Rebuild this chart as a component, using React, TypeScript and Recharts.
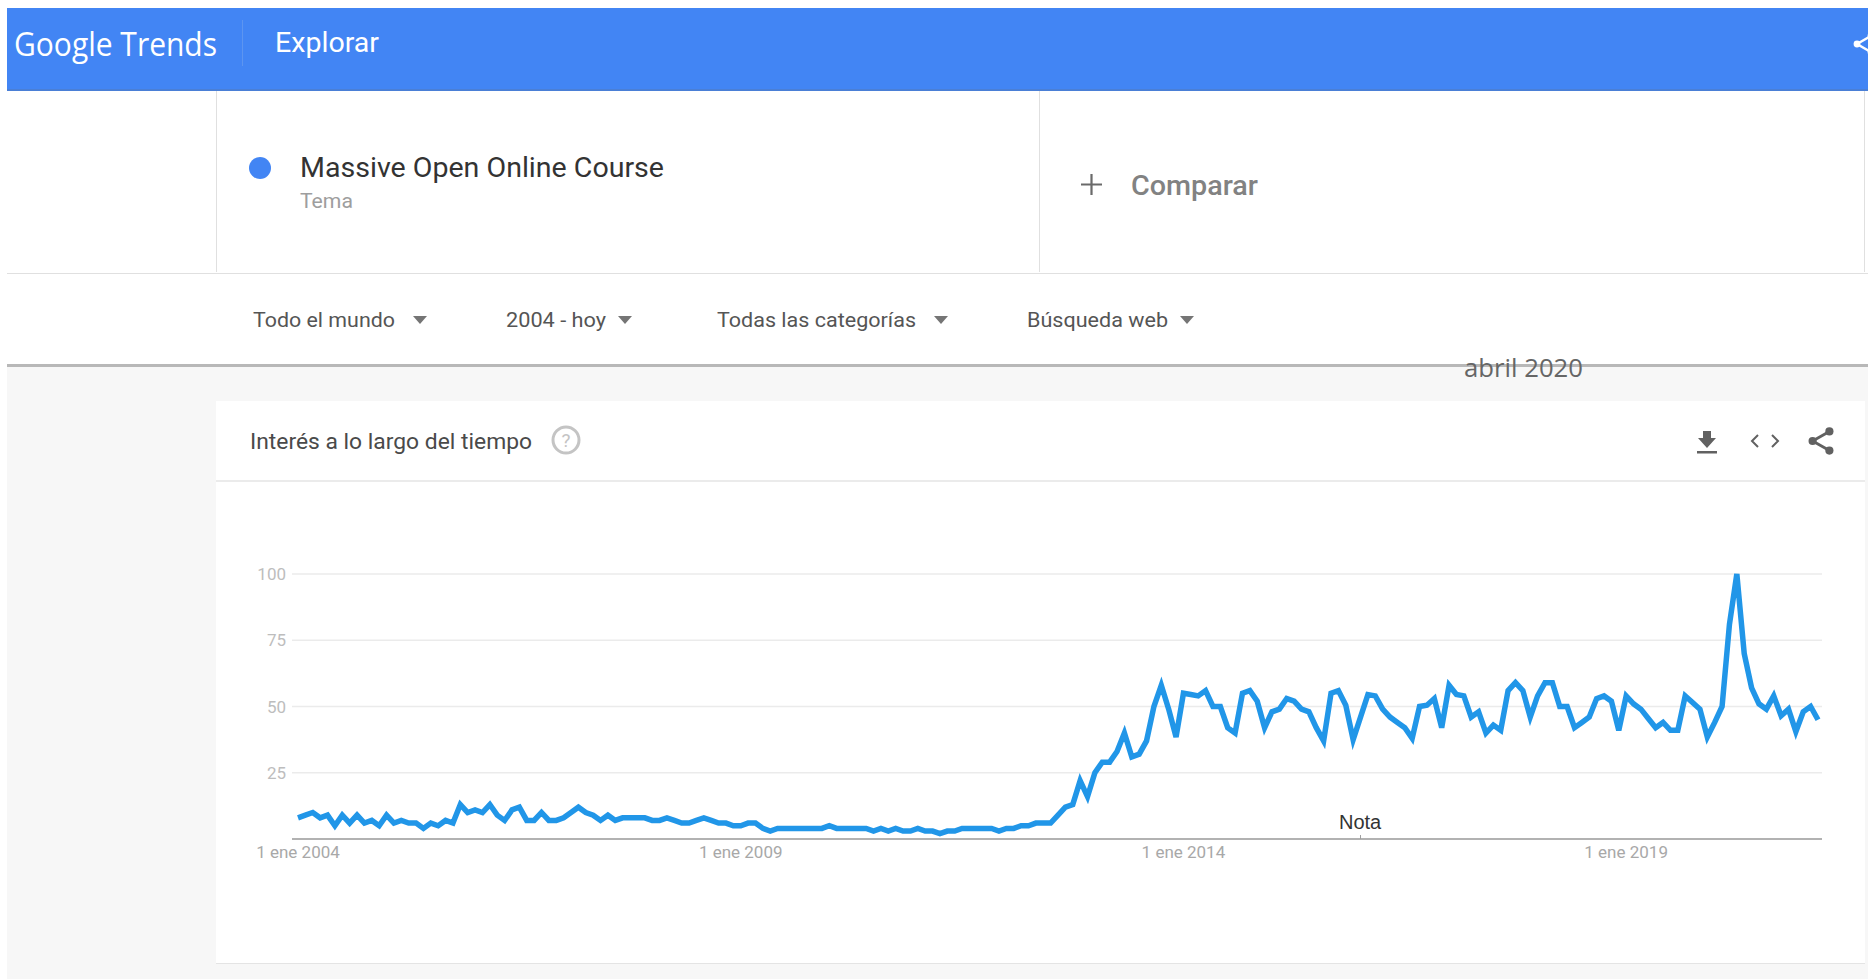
import { LineChart, Line, XAxis, YAxis, CartesianGrid, ReferenceLine } from "recharts";

const BLUE = "#4285f4";
const FONT = "Roboto, sans-serif";

const MONTHS = ["ene", "feb", "mar", "abr", "may", "jun", "jul", "ago", "sep", "oct", "nov", "dic"];

// monthly interest, one row per year, from Jan 2004
const v2004 = [8, 9, 10, 8, 9, 5, 9, 6, 9, 6, 7, 5];
const v2005 = [9, 6, 7, 6, 6, 4, 6, 5, 7, 6, 13, 10];
const v2006 = [11, 10, 13, 9, 7, 11, 12, 7, 7, 10, 7, 7];
const v2007 = [8, 10, 12, 10, 9, 7, 9, 7, 8, 8, 8, 8];
const v2008 = [7, 7, 8, 7, 6, 6, 7, 8, 7, 6, 6, 5];
const v2009 = [5, 6, 6, 4, 3, 4, 4, 4, 4, 4, 4, 4];
const v2010 = [5, 4, 4, 4, 4, 4, 3, 4, 3, 4, 3, 3];
const v2011 = [4, 3, 3, 2, 3, 3, 4, 4, 4, 4, 4, 3];
const v2012 = [4, 4, 5, 5, 6, 6, 6, 9, 12, 13, 22, 16];
const v2013 = [25, 29, 29, 33, 40, 31, 32, 37, 50, 58, 49, 38.5];
const v2014 = [55, 54.5, 54, 56, 50, 50, 42, 40, 55, 56, 52, 42];
const v2015 = [48, 49, 53, 52, 49, 48, 42, 37, 55, 56, 50.5, 37.5];
const v2016 = [46, 54.5, 54, 49, 46, 44, 42, 38, 50, 50.5, 53, 42];
const v2017 = [58, 54.5, 54, 46, 48, 40, 43, 41, 56, 59, 56, 46];
const v2018 = [54, 59, 59, 50, 50, 42, 44, 46, 53, 54, 52, 41];
const v2019 = [54, 51, 49, 45.5, 42, 44, 41, 41, 54, 51.5, 49, 38.5];
const v2020 = [44, 50, 81, 100, 70, 57, 51, 49, 54, 46.5, 49, 40.5];
const v2021 = [48, 50, 45];

const years = [v2004, v2005, v2006, v2007, v2008, v2009, v2010, v2011, v2012, v2013, v2014, v2015, v2016, v2017, v2018, v2019, v2020, v2021];

const data = years.flatMap((vals, y) =>
  vals.map((value, m) => ({ date: `1 ${MONTHS[m]} ${2004 + y}`, value }))
);

const xTicks = ["1 ene 2004", "1 ene 2009", "1 ene 2014", "1 ene 2019"];
const yTicks = [25, 50, 75, 100];
const filters = [
  { label: "Todo el mundo", x: 253, w: 142, arrow: 420 },
  { label: "2004 - hoy", x: 506, w: 100, arrow: 625 },
  { label: "Todas las categorías", x: 717, w: 199, arrow: 941 },
  { label: "Búsqueda web", x: 1027, w: 141, arrow: 1187 },
];

function Txt({ x, y, w, size, fill, weight = 400, family = FONT, children }: any) {
  return (
    <text x={x} y={y} fontSize={size} fill={fill} fontWeight={weight} fontFamily={family} textLength={w} lengthAdjust="spacingAndGlyphs">
      {children}
    </text>
  );
}

function Share({ x, y, s, color }: any) {
  return (
    <g transform={`translate(${x},${y}) scale(${s})`} stroke={color} fill={color}>
      <path d="M7,-8 L-7,0 L7,8" fill="none" strokeWidth={2.4} />
      <circle cx={7} cy={-8} r={3.4} stroke="none" />
      <circle cx={-7} cy={0} r={3.4} stroke="none" />
      <circle cx={7} cy={8} r={3.4} stroke="none" />
    </g>
  );
}

function Page() {
  return (
    <svg width={1868} height={979} style={{ position: "absolute", left: 0, top: 0 }}>
      <rect width={1868} height={979} fill="#ffffff" />
      <rect x={7} y={367} width={1861} height={612} fill="#f7f7f7" />
      <rect x={7} y={364} width={1861} height={3} fill="#b8b8b8" />

      {/* header */}
      <rect x={7} y={8} width={1861} height={82} fill={BLUE} />
      <rect x={7} y={89} width={1861} height={2} fill="#4a7fd6" />
      <line x1={242.5} y1={20} x2={242.5} y2={66} stroke="#5d95f0" />
      <Txt x={14} y={56} w={203} size={32} fill="#ffffff" family="'Open Sans', sans-serif">Google Trends</Txt>
      <Txt x={275} y={52} w={104} size={27} fill="#ffffff">Explorar</Txt>
      <Share x={1864} y={44} s={1} color="#ffffff" />

      {/* search term row */}
      <line x1={216.5} y1={91} x2={216.5} y2={272} stroke="#e0e0e0" />
      <line x1={1039.5} y1={91} x2={1039.5} y2={272} stroke="#e0e0e0" />
      <line x1={1864.5} y1={91} x2={1864.5} y2={272} stroke="#e0e0e0" />
      <line x1={7} y1={273.5} x2={1868} y2={273.5} stroke="#e0e0e0" />
      <circle cx={260} cy={168} r={11} fill={BLUE} />
      <Txt x={300} y={177} w={364} size={27} fill="#333333">Massive Open Online Course</Txt>
      <Txt x={300} y={208} w={53} size={20} fill="#9e9e9e">Tema</Txt>
      <path d="M1091.5,174 V195 M1081,184.5 H1102" stroke="#6a6a6a" strokeWidth={2.2} />
      <Txt x={1131} y={195} w={127} size={27} fill="#828282" weight={500}>Comparar</Txt>

      {/* filters */}
      {filters.map((f) => (
        <g key={f.label}>
          <Txt x={f.x} y={327} w={f.w} size={21} fill="#555555">{f.label}</Txt>
          <path d={`M${f.arrow - 7},316 h14 l-7,8 z`} fill="#757575" />
        </g>
      ))}
      <Txt x={1464} y={377} w={119} size={25} fill="#666666" family="'Open Sans', sans-serif">abril 2020</Txt>

      {/* card */}
      <rect x={216} y={401} width={1649} height={562} fill="#ffffff" />
      <rect x={216} y={963} width={1649} height={1} fill="#e4e4e4" />
      <line x1={216} y1={481} x2={1865} y2={481} stroke="#ebebeb" strokeWidth={2} />
      <Txt x={250} y={449} w={282} size={22} fill="#4a4a4a">Interés a lo largo del tiempo</Txt>
      <circle cx={566} cy={440} r={13} fill="none" stroke="#c4c4c4" strokeWidth={3} />
      <text x={566} y={447} textAnchor="middle" fontSize={19} fill="#c4c4c4" fontFamily={FONT}>?</text>

      {/* card icons */}
      <path d="M1703,431 h8 v7 h5 l-9,10 l-9,-10 h5 z" fill="#616161" />
      <rect x={1697} y={451} width={20} height={2.5} fill="#616161" />
      <path d="M1758,435 l-6,6 l6,6 M1772,435 l6,6 l-6,6" fill="none" stroke="#616161" strokeWidth={2} />
      <Share x={1821} y={441} s={1.2} color="#616161" />
    </svg>
  );
}

export default function App() {
  return (
    <div style={{ position: "absolute", left: 0, top: 0, width: 1868, height: 979, overflow: "hidden" }}>
      <Page />
      <div style={{ position: "absolute", left: 216, top: 481 }}>
        <LineChart
          width={1649}
          height={480}
          data={data}
          margin={{ top: 93, right: 43, bottom: 92, left: 0 }}
        >
          <CartesianGrid vertical={false} stroke="#ebebeb" strokeWidth={1.5} />
          <XAxis
            dataKey="date"
            ticks={xTicks}
            interval={0}
            height={30}
            tickLine={false}
            tickSize={0}
            axisLine={{ stroke: "#9e9e9e", strokeWidth: 1.5 }}
            padding={{ left: 6, right: 4 }}
            tick={{ fill: "#a8a8a8", fontSize: 17, fontFamily: FONT }}
            tickMargin={7}
          />
          <YAxis
            width={76}
            domain={[0, 100]}
            ticks={yTicks}
            tickLine={false}
            tickSize={0}
            axisLine={false}
            tick={{ fill: "#bdbdbd", fontSize: 17, fontFamily: FONT }}
            tickMargin={6}
          />
          <ReferenceLine
            segment={[
              { x: "1 ene 2016", y: 0 },
              { x: "1 ene 2016", y: 1.5 },
            ]}
            stroke="#9e9e9e"
          />
          <Line
            type="linear"
            dataKey="value"
            stroke="#2196e8"
            strokeWidth={5.5}
            dot={false}
            strokeLinejoin="miter"
            isAnimationActive={false}
          />
        </LineChart>
      </div>
      <div style={{ position: "absolute", left: 1339, top: 811, font: "20px 'Liberation Sans', sans-serif", color: "#333333" }}>
        Nota
      </div>
    </div>
  );
}
